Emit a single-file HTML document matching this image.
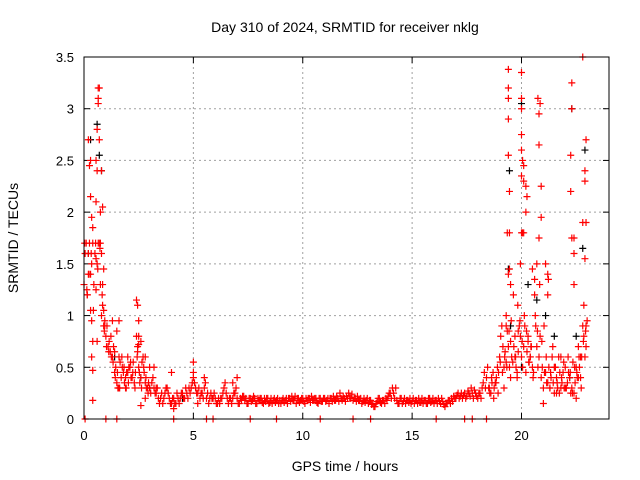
<!DOCTYPE html>
<html><head><meta charset="utf-8"><style>
body{margin:0;background:#fff}
svg{display:block;font-family:"Liberation Sans",sans-serif}
</style></head><body>
<svg id="chart" width="640" height="480" xmlns="http://www.w3.org/2000/svg">
<rect width="640" height="480" fill="#fff"/>
<text x="345" y="32" font-size="14" text-anchor="middle">Day 310 of 2024, SRMTID for receiver nklg</text>
<g id="grid"></g>
<g id="ticks"></g>
<g id="marks"></g>
<rect x="84" y="57" width="525" height="362" fill="none" stroke="#000" stroke-width="1"/>
<text x="345" y="471" font-size="14" text-anchor="middle">GPS time / hours</text>
<text x="0" y="0" font-size="14" text-anchor="middle" transform="translate(18,238) rotate(-90)">SRMTID / TECUs</text>
</svg>
<script>
const xTicks=[0,5,10,15,20];
const yTicks=[0,0.5,1,1.5,2,2.5,3,3.5];
const yTickLabels=["0","0.5","1","1.5","2","2.5","3","3.5"];
const redBase=[1.3,1.7,1.6,1.4,1.7,1.6,1.5,1.7,1.0,0.9,
0.8,0.7,0.65,0.6,0.45,0.35,0.6,0.4,0.45,0.4,
0.45,0.5,0.4,0.35,0.8,0.5,0.4,0.6,0.35,0.3,
0.3,0.35,0.3,0.25,0.2,0.2,0.15,0.25,0.3,0.2,
0.15,0.2,0.15,0.2,0.2,0.25,0.2,0.25,0.3,0.3,
0.45,0.3,0.25,0.2,0.25,0.3,0.2,0.15,0.25,0.2,
0.2,0.15,0.15,0.2,0.3,0.25,0.15,0.2,0.2,0.25,
0.2,0.15,0.18,0.22,0.2,0.15,0.2,0.18,0.2,0.15,
0.18,0.2,0.15,0.17,0.2,0.16,0.15,0.2,0.18,0.15,
0.15,0.2,0.18,0.15,0.2,0.22,0.18,0.15,0.2,0.18,
0.2,0.15,0.18,0.2,0.22,0.18,0.2,0.15,0.2,0.17,
0.2,0.18,0.15,0.2,0.22,0.18,0.2,0.25,0.18,0.2,
0.22,0.25,0.2,0.18,0.2,0.22,0.18,0.15,0.2,0.18,
0.15,0.18,0.15,0.12,0.17,0.2,0.15,0.18,0.2,0.22,
0.25,0.3,0.2,0.18,0.15,0.2,0.17,0.15,0.18,0.2,
0.17,0.15,0.18,0.2,0.16,0.15,0.18,0.15,0.2,0.17,
0.15,0.18,0.2,0.15,0.17,0.12,0.15,0.18,0.2,0.22,
0.2,0.25,0.22,0.2,0.25,0.22,0.25,0.3,0.2,0.25,
0.2,0.25,0.3,0.45,0.4,0.3,0.25,0.45,0.35,0.5,
0.6,0.9,0.5,1.0,0.7,0.4,0.55,0.6,0.45,0.9,
0.6,0.7,0.45,0.8,0.6,0.5,1.2,0.7,0.6,0.4,
0.3,0.45,0.35,0.3,0.6,0.25,0.4,0.6,0.3,0.45,
0.5,0.35,0.4,0.3,0.25,0.5,0.7,0.4,0.9,0.6,0.95];
const redBase2=[1.6,1.2,1.7,1.5,1.3,1.55,1.7,1.3,1.1,0.95,
0.9,0.75,0.6,0.7,0.5,0.3,0.55,0.5,0.35,0.45,
0.5,0.4,0.55,0.45,0.7,0.35,0.55,0.45,0.3,0.35,
0.25,0.4,0.25,0.3,0.15,0.25,0.2,0.3,0.25,0.15,
0.2,0.15,0.25,0.15,0.25,0.2,0.3,0.2,0.25,0.35,
0.35,0.25,0.3,0.25,0.2,0.35,0.25,0.2,0.2,0.25,
0.15,0.2,0.2,0.25,0.35,0.2,0.2,0.15,0.25,0.3,
0.15,0.2,0.22,0.18,0.15,0.2,0.17,0.22,0.15,0.2,
0.2,0.16,0.2,0.2,0.15,0.2,0.18,0.16,0.2,0.18,
0.18,0.16,0.2,0.2,0.17,0.18,0.22,0.2,0.16,0.2,
0.17,0.2,0.2,0.16,0.18,0.2,0.16,0.2,0.17,0.2,
0.17,0.2,0.2,0.17,0.18,0.22,0.17,0.2,0.22,0.17,
0.2,0.2,0.24,0.2,0.17,0.18,0.2,0.17,0.16,0.2,
0.18,0.14,0.12,0.15,0.2,0.16,0.18,0.15,0.18,0.25,
0.2,0.25,0.3,0.15,0.2,0.15,0.2,0.18,0.16,0.15,
0.2,0.18,0.15,0.16,0.2,0.18,0.15,0.2,0.16,0.2,
0.18,0.15,0.17,0.2,0.14,0.15,0.18,0.15,0.17,0.2,
0.23,0.2,0.25,0.23,0.2,0.27,0.22,0.25,0.28,0.22,
0.25,0.2,0.35,0.3,0.5,0.25,0.35,0.3,0.4,0.45,
0.8,0.7,0.65,0.85,0.5,0.6,0.7,0.5,0.65,0.8,
0.5,0.9,0.65,0.55,0.7,0.45,0.9,0.5,0.8,0.5,
0.45,0.35,0.5,0.4,0.35,0.5,0.3,0.45,0.35,0.3,
0.3,0.45,0.25,0.55,0.35,0.4,0.5,0.6,0.8,0.7];
const early3=[1.7,1.25,1.4,1.6,1.05,1.7,1.45,1.65,1.2,0.85,0.7,0.65,0.8,0.55,0.4,0.45,0.3,0.6,0.5,0.3,0.35,0.55,0.45,0.3,0.6,0.45,0.3,0.5,0.4,0.25];
const late3=[0.3,0.4,0.2,0.35,0.25,0.55,0.45,0.6,0.5,0.85,0.95,1.2,0.6,1.1,0.95,0.75,1.0,0.85,0.55,0.7,0.4,1.0,0.85,1.3,0.75,0.9,0.6,1.35,0.45,0.7,0.5,0.35,0.25,0.4,0.55,0.3,0.6,0.45,0.25,0.5,0.45,0.6,0.3,0.75,0.85];
const redT=[0.2,0.25,0.3,0.3,0.35,0.4,0.2,0.15,0.3,0.35,0.4,0.35,0.4,0.4,0.55,0.6,0.55,0.65,0.65,0.65,0.7,0.6,0.7,0.75,0.8,0.85,0.9,0.85,0.9,0.95,0.75,0.8,0.6,0.55,
1.3,1.5,1.6,1.6,1.4,1.9,2.0,2.4,2.45,2.5,2.5,2.5,2.6,2.45,2.6,2.8,2.8,3.0,3.2,3.3,4.0,4.1,5.0,5.0,5.5,5.2,6.8,7.0,
19.4,19.4,19.4,19.4,19.4,19.45,19.35,19.45,19.4,19.45,19.5,20.0,20.0,20.0,20.0,20.0,20.05,20.0,20.1,20.1,20.0,20.05,20.1,19.95,20.2,20.25,20.2,20.8,20.75,20.85,20.8,20.9,20.9,20.8,20.5,20.6,20.7,21.1,21.2,21.2,22.3,22.3,22.25,22.25,22.3,22.4,22.4,22.4,22.8,22.95,22.9,22.9,22.8,22.95,22.9,22.85,22.95,19.3,19.5,19.3,19.7,19.85,20.3,20.4,21.5,21.8,21.6,22.0,22.5,22.7,22.6,21.3,21.0,19.8,19.2];
const redV=[2.7,2.45,2.5,2.15,1.95,1.85,1.4,1.2,1.05,0.95,0.75,0.6,0.47,0.18,2.5,2.4,2.1,3.2,3.1,3.05,3.2,2.8,2.7,2.0,2.4,2.05,1.45,1.3,1.05,0.9,1.7,1.6,0.75,1.25,
0.95,0.85,0.95,0.3,0.65,0.3,0.6,1.15,1.1,0.95,0.8,0.72,0.75,0.65,0.13,0.6,0.2,0.5,0.5,0.3,0.45,0.1,0.55,0.4,0.4,0.15,0.35,0.4,
3.38,3.2,3.1,2.9,2.55,2.2,1.8,1.8,1.4,1.45,1.3,3.35,3.1,3.0,2.75,2.6,2.5,2.35,2.45,2.3,1.8,1.8,1.8,1.5,2.25,2.15,2.0,2.95,3.1,3.05,2.65,2.25,1.95,1.75,1.45,1.35,1.5,1.5,1.4,1.2,3.25,3.0,2.55,2.2,1.75,1.75,1.6,1.3,3.5,2.7,2.4,2.3,1.9,1.9,1.55,1.1,0.9,0.9,0.75,0.55,0.8,0.85,0.75,0.6,0.5,0.6,0.25,0.3,0.2,0.6,0.4,0.3,0.15,0.4,0.3];
const zeroT=[0.05,1.0,1.5,4.1,5.6,5.9,7.6,8.8,10.8,12.3,13.1,16.1,17.4,17.75,18.4];
const blackT=[0.3,0.6,0.7,0.8,0.2,1.4,2.6,3.0,4.5,20.0,19.45,19.4,20.3,20.7,21.1,22.3,22.9,22.8,22.5,21.5,19.5,20.0,22.2];
const blackV=[2.7,2.85,2.55,2.4,1.6,0.6,0.4,0.3,0.2,3.05,2.4,1.45,1.3,1.15,1.0,3.0,2.6,1.65,0.8,0.8,0.9,0.5,0.4];

const X0=84,X1=609,Y0=419,Y1=57;
const xs=t=>X0+t/24*(X1-X0);
const ys=v=>Y0-v/3.5*(Y0-Y1);
const NS="http://www.w3.org/2000/svg";
function mk(tag,attrs,parent){const e=document.createElementNS(NS,tag);for(const k in attrs)e.setAttribute(k,attrs[k]);parent.appendChild(e);return e;}
const grid=document.getElementById('grid'),ticks=document.getElementById('ticks'),marks=document.getElementById('marks');
xTicks.forEach(t=>{const x=xs(t);
 if(t>0&&t<24){const g=mk('line',{x1:x,x2:x,y1:Y1,y2:Y0,stroke:'#a0a0a0','stroke-dasharray':'2,3'},grid);
 
 }
 mk('line',{x1:x,x2:x,y1:Y0,y2:Y0-6,stroke:'#000'},ticks);mk('line',{x1:x,x2:x,y1:Y1,y2:Y1+6,stroke:'#000'},ticks);
 const l=mk('text',{x:x,y:Y0+21,'font-size':13,'text-anchor':'middle'},ticks);l.textContent=String(t);
 
 });
yTicks.forEach((v,i)=>{const y=ys(v);
 if(v>0&&v<3.5){const g=mk('line',{x1:X0,x2:X1,y1:y,y2:y,stroke:'#a0a0a0','stroke-dasharray':'2,3'},grid);
 
 }
 mk('line',{x1:X0,x2:X0+6,y1:y,y2:y,stroke:'#000'},ticks);mk('line',{x1:X1,x2:X1-6,y1:y,y2:y,stroke:'#000'},ticks);
 const l=mk('text',{x:X0-10,y:y+5,'font-size':13,'text-anchor':'end'},ticks);l.textContent=yTickLabels[i];
 
 });
function plus(t,v,c,name){const x=xs(t),y=ys(v);
 const p=mk('path',{d:`M${x-3.5},${y}h7M${x},${y-3.5}v7`,stroke:c,'stroke-width':1.2,fill:'none'},marks);
 
 }
blackT.forEach((t,i)=>plus(t,blackV[i],'#000','black-point'));
redBase.forEach((v,i)=>plus(i*0.1,v,'#f00','red-point'));
redBase2.forEach((v,i)=>plus(i*0.1+0.05,v,'#f00','red-point'));
early3.forEach((v,i)=>plus(i*0.1+0.03,v,'#f00','red-point'));
late3.forEach((v,i)=>plus(18.53+i*0.1,v,'#f00','red-point'));
redT.forEach((t,i)=>plus(t,redV[i],'#f00','red-point'));
zeroT.forEach(t=>plus(t,0,'#f00','red-zero-point'));
</script>
</body></html>
